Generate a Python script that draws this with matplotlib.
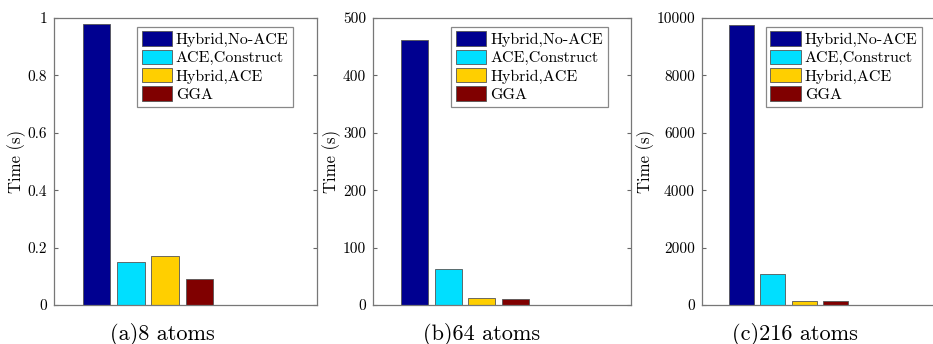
import matplotlib
matplotlib.use("Agg")
import matplotlib.pyplot as plt
from matplotlib.ticker import FuncFormatter

# series names and colours (MATLAB jet-like)
series = ['Hybrid,No-ACE', 'ACE,Construct', 'Hybrid,ACE', 'GGA']
colors = ['#000090', '#00DFFF', '#FFCF00', '#800000']

# timings (s) for each system size
captions = ['(a)8 atoms', '(b)64 atoms', '(c)216 atoms']
times_8 = [0.98, 0.15, 0.17, 0.09]
times_64 = [462, 62, 12, 10]
times_216 = [9750, 1080, 150, 140]
ylims = [1, 500, 10000]
yticks = [[0, 0.2, 0.4, 0.6, 0.8, 1],
          [0, 100, 200, 300, 400, 500],
          [0, 2000, 4000, 6000, 8000, 10000]]

plt.rcParams['font.family'] = ['cmr10', 'DejaVu Serif']
plt.rcParams['axes.formatter.use_mathtext'] = True
plt.rcParams['mathtext.fontset'] = 'cm'

fig = plt.figure(figsize=(9.33, 3.44), dpi=100)

# axes positions in figure fractions (left, bottom, width, height)
positions = [(0.0579, 0.1134, 0.2819, 0.8343),
             (0.3998, 0.1134, 0.2765, 0.8343),
             (0.7524, 0.1134, 0.2594, 0.8343)]
caption_x = [0.174, 0.516, 0.852]

for pos, vals, ymax, ticks, cap, cx in zip(positions, [times_8, times_64, times_216],
                                           ylims, yticks, captions, caption_x):
    ax = fig.add_axes(pos)
    xs = range(1, len(vals) + 1)
    for x, v, c, name in zip(xs, vals, colors, series):
        ax.bar(x, v, width=0.8, color=c, edgecolor='#555555', linewidth=0.6, label=name)
    ax.set_xlim(-0.25, 7.45)
    ax.set_ylim(0, ymax)
    ax.set_yticks(ticks)
    ax.yaxis.set_major_formatter(FuncFormatter(lambda v, p: '%g' % v))
    ax.set_xticks([])
    ax.tick_params(axis='y', direction='in', left=True, right=True, length=3,
                   labelsize=11, color='#666666', pad=5)
    for s in ax.spines.values():
        s.set_color('#777777')
        s.set_linewidth(0.9)
    ax.set_ylabel('Time (s)', fontsize=12, labelpad=1)
    leg = ax.legend(loc='upper right', bbox_to_anchor=(0.91, 0.97), fontsize=11.5,
                    handlelength=1.9, handleheight=1.0, handletextpad=0.25,
                    labelspacing=0.17, borderpad=0.3, borderaxespad=0.0,
                    fancybox=False, framealpha=1)
    leg.get_frame().set_edgecolor('#888888')
    leg.get_frame().set_linewidth(0.9)
    fig.text(cx, 0.029, cap, fontsize=16, ha='center', va='center')

fig.savefig('out.png', dpi=100)
